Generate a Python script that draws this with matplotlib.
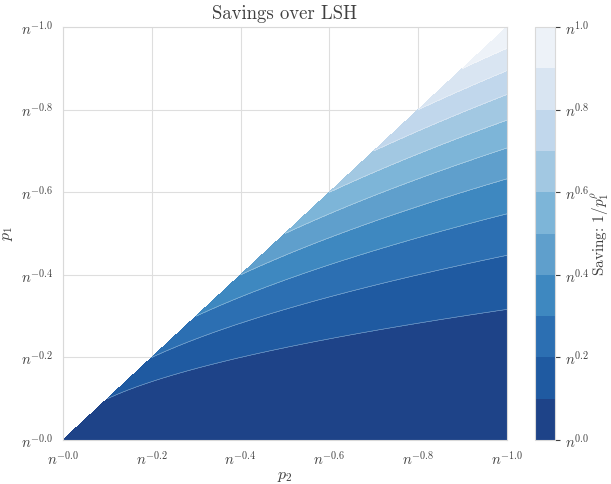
import numpy as np
import seaborn as sns
from matplotlib import pyplot as plt
from matplotlib.colors import ListedColormap

sns.set_style("whitegrid")
plt.rcParams['font.family'] = ['serif']
plt.rcParams['font.serif'] = ['cmr10', 'DejaVu Serif']
plt.rcParams['mathtext.fontset'] = 'cm'
plt.rcParams['axes.formatter.use_mathtext'] = True
plt.rcParams['axes.unicode_minus'] = False
plt.rcParams['text.color'] = '0.25'
plt.rcParams['xtick.color'] = '0.25'
plt.rcParams['ytick.color'] = '0.25'
plt.rcParams['axes.labelcolor'] = '0.25'

# exponents: p2 = n^-a, p1 = n^-b with b <= a
a_vals = np.linspace(0, 1, 201)      # p2 exponent
t_vals = np.linspace(0, 1, 201)      # b / a
levels = np.linspace(0, 1, 11)
tick_vals = [0.0, 0.2, 0.4, 0.6, 0.8, 1.0]
axis_labels = ['$n^{-%.1f}$' % v for v in tick_vals]
cbar_labels = ['$n^{%.1f}$' % v for v in tick_vals]

# band colours, dark (low saving) to light
band_colors = ['#1e4388', '#1f5aa1', '#2c6fb2', '#3e88c0', '#5f9fcc',
               '#7db5d8', '#a2c8e2', '#c1d7ec', '#d9e5f2', '#edf2f8']

A, T = np.meshgrid(a_vals, t_vals)
B = T * A
# saving 1/p1^rho with rho = b/a  ->  exponent b^2/a
S = T ** 2 * A

fig = plt.figure(figsize=(6.11, 4.84), dpi=100)
ax = fig.add_axes([63 / 611, 44 / 484, 444 / 611, 413 / 484])
cax = fig.add_axes([535 / 611, 44 / 484, 20 / 611, 413 / 484])

cs = ax.contourf(A, B, S, levels=levels, cmap=ListedColormap(band_colors))
ax.contour(A, B, S, levels=levels[1:-1], colors='white', linewidths=0.4, alpha=0.5)
ax.set_xlim(0, 1)
ax.set_ylim(0, 1)
ax.set_xticks(tick_vals)
ax.set_yticks(tick_vals)
ax.set_xticklabels(axis_labels, fontsize=10.5)
ax.set_yticklabels(axis_labels, fontsize=10.5)
ax.set_xlabel('$p_2$', fontsize=11.5, labelpad=2)
ax.set_ylabel('$p_1$', fontsize=11.5)
ax.set_title('Savings over LSH', fontsize=13.5)
ax.set_axisbelow(True)
for s in ax.spines.values():
    s.set_edgecolor('0.85')
ax.grid(color='0.87')

cb = fig.colorbar(cs, cax=cax, ticks=tick_vals)
cb.ax.set_yticklabels(cbar_labels, fontsize=10.5)
cb.set_label('Saving: $1/p_1^\\rho$', fontsize=11, labelpad=0)
cb.outline.set_edgecolor('0.85')

fig.savefig('out.png', dpi=100)
